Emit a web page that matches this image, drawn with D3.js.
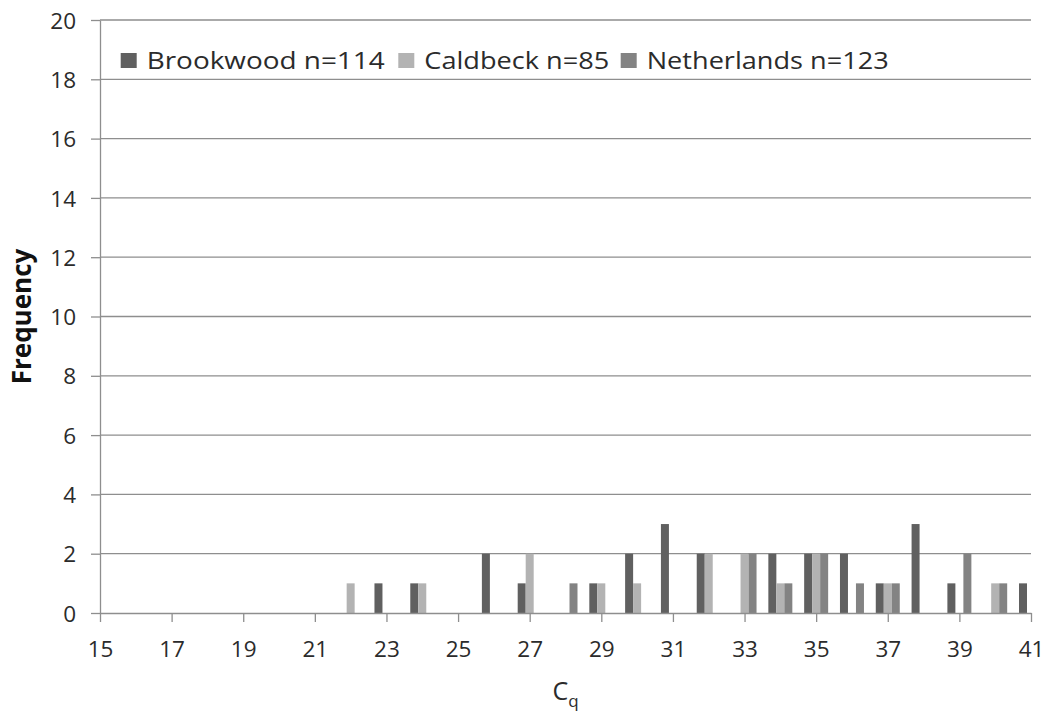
<!DOCTYPE html>
<html>
<head>
<meta charset="utf-8">
<script src="https://cdn.jsdelivr.net/npm/d3@7"></script>
<style>
  body { margin: 0; background: #ffffff; }
  svg text { font-family: "Open Sans", "DejaVu Sans", sans-serif; fill: #2b2b2b; }
</style>
</head>
<body>
<svg id="chart" width="1047" height="711"></svg>
<script>
// Cq bins (one category per cycle value)
const cqBins = [15, 16, 17, 18, 19, 20, 21, 22, 23, 24, 25, 26, 27, 28,
                29, 30, 31, 32, 33, 34, 35, 36, 37, 38, 39, 40, 41];

// Frequency per bin for each sample set
const brookwood   = [0, 0, 0, 0, 0, 0, 0, 0, 1, 1, 0, 2, 1, 0,
                     1, 2, 3, 2, 0, 2, 2, 2, 1, 3, 1, 0, 1];
const caldbeck    = [0, 0, 0, 0, 0, 0, 0, 1, 0, 1, 0, 0, 2, 0,
                     1, 1, 0, 2, 2, 1, 2, 0, 1, 0, 0, 1, 0];
const netherlands = [0, 0, 0, 0, 0, 0, 0, 0, 0, 0, 0, 0, 0, 1,
                     0, 0, 0, 0, 2, 1, 2, 1, 1, 0, 2, 1, 0];

const seriesNames = ["Brookwood n=114", "Caldbeck n=85", "Netherlands n=123"];
const seriesColors = ["#606060", "#b3b3b3", "#838383"];

const xTickLabels = [15, 17, 19, 21, 23, 25, 27, 29, 31, 33, 35, 37, 39, 41];
const yTickLabels = [0, 2, 4, 6, 8, 10, 12, 14, 16, 18, 20];

const series = [brookwood, caldbeck, netherlands].map((vals, i) => ({
  name: seriesNames[i],
  color: seriesColors[i],
  values: vals
}));

const svg = d3.select("#chart");
const plotLeft = 100, plotRight = 1031, plotTop = 20, plotBottom = 613;

// Categories sit on the tick marks
const x = d3.scalePoint().domain(cqBins).range([plotLeft, plotRight]).padding(0);
const step = x.step();
const inner = d3.scaleBand().domain(seriesNames)
  .range([-step * 0.335, step * 0.335]).padding(0);
const y = d3.scaleLinear().domain([0, 20]).range([plotBottom, plotTop]);

// Horizontal gridlines
svg.append("g")
  .selectAll("line")
  .data(yTickLabels.filter(v => v > 0))
  .join("line")
  .attr("x1", plotLeft).attr("x2", plotRight)
  .attr("y1", d => y(d)).attr("y2", d => y(d))
  .attr("stroke", "#8e8e8e").attr("stroke-width", 1.3);

// Bars
const groups = svg.append("g")
  .selectAll("g")
  .data(series)
  .join("g")
  .attr("fill", d => d.color);

groups.selectAll("rect")
  .data(s => s.values.map((v, i) => ({ name: s.name, cq: cqBins[i], v })).filter(d => d.v > 0))
  .join("rect")
  .attr("x", d => x(d.cq) + inner(d.name))
  .attr("width", inner.bandwidth())
  .attr("y", d => y(d.v))
  .attr("height", d => y(0) - y(d.v));

// Y axis
const yAxis = svg.append("g")
  .attr("transform", `translate(${plotLeft},0)`)
  .call(d3.axisLeft(y).tickValues(yTickLabels).tickSize(9).tickPadding(15).tickSizeOuter(0));
yAxis.select(".domain").attr("stroke", "#8e8e8e").attr("stroke-width", 1.3);
yAxis.selectAll(".tick line").attr("stroke", "#8e8e8e").attr("stroke-width", 1.3);
yAxis.selectAll(".tick text").style("font-size", "22.5px").attr("dy", "0.36em");

// X axis
const xAxis = svg.append("g")
  .attr("transform", `translate(0,${plotBottom})`)
  .call(d3.axisBottom(x).tickValues(xTickLabels).tickSize(9).tickPadding(19).tickSizeOuter(0));
xAxis.select(".domain").attr("stroke", "#8e8e8e").attr("stroke-width", 1.3);
xAxis.selectAll(".tick line").attr("stroke", "#8e8e8e").attr("stroke-width", 1.3);
xAxis.selectAll(".tick text").style("font-size", "22.5px");

// Axis titles
svg.append("text")
  .attr("transform", `translate(31,${(plotTop + plotBottom) / 2}) rotate(-90)`)
  .attr("text-anchor", "middle")
  .style("font-size", "26px").style("font-weight", "bold")
  .style("fill", "#111")
  .text("Frequency");

const xTitle = svg.append("text")
  .attr("x", (plotLeft + plotRight) / 2)
  .attr("y", 700)
  .attr("text-anchor", "middle")
  .style("font-size", "25px");
xTitle.append("tspan").text("C");
xTitle.append("tspan").attr("dy", 7).style("font-size", "17px").text("q");

// Legend
const legendX = [120.7, 398.3, 620.7];
const legendTextW = [238, 185, 242];
const legend = svg.append("g")
  .selectAll("g")
  .data(series)
  .join("g")
  .attr("transform", (d, i) => `translate(${legendX[i]},0)`);
legend.append("rect")
  .attr("x", 0).attr("y", 53).attr("width", 16).attr("height", 15)
  .attr("fill", d => d.color);
legend.append("text")
  .attr("x", 26).attr("y", 69.3)
  .style("font-size", "24.5px")
  .attr("textLength", (d, i) => legendTextW[i])
  .attr("lengthAdjust", "spacingAndGlyphs")
  .text(d => d.name);
</script>
</body>
</html>
